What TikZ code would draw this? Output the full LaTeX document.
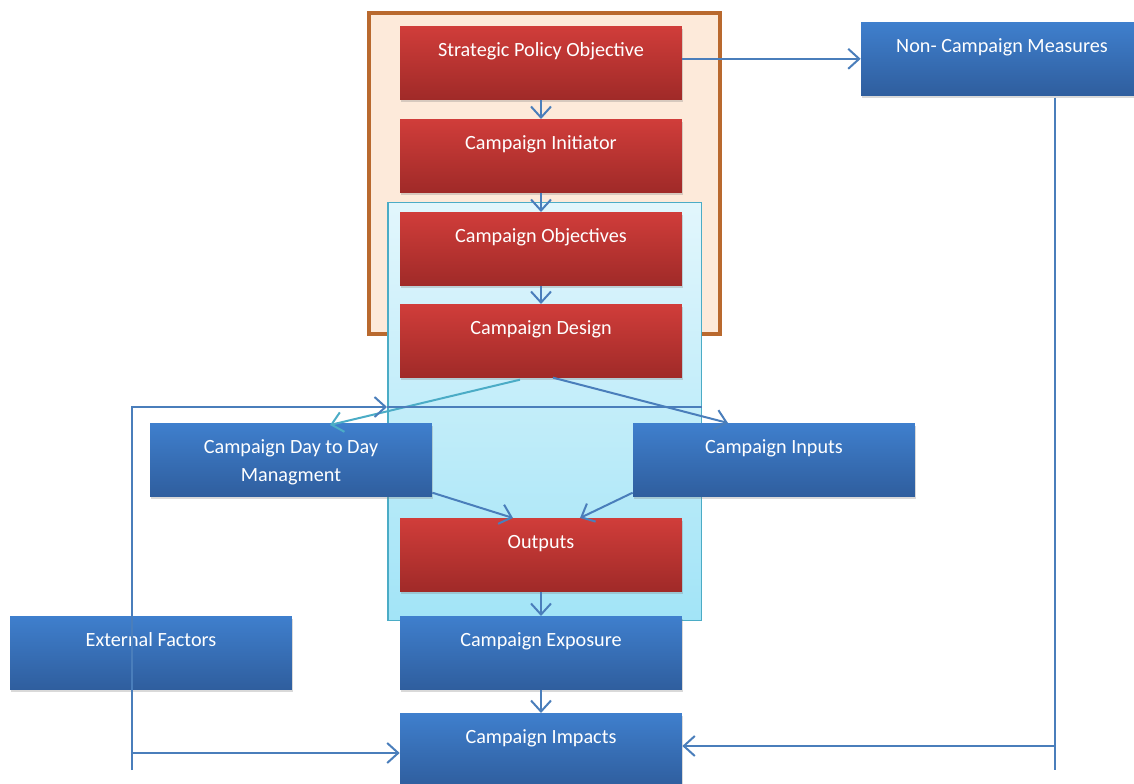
\documentclass[tikz,border=0pt]{standalone}
\usepackage{fontspec}
\setmainfont{Carlito}
\usetikzlibrary{arrows.meta,shadows}
\definecolor{linkblue}{HTML}{4A7EBB}
\definecolor{linkteal}{HTML}{4BACC6}
\definecolor{redtop}{HTML}{D03D3A}
\definecolor{redmid}{HTML}{C53633}
\definecolor{redbot}{HTML}{A02A28}
\definecolor{bluetop}{HTML}{3F7FCD}
\definecolor{bluemid}{HTML}{3A74BD}
\definecolor{bluebot}{HTML}{2F5E9E}
\definecolor{peach}{HTML}{FDEADA}
\definecolor{rust}{HTML}{B9692E}
\definecolor{cyantop}{HTML}{E2F6FC}
\definecolor{cyanbot}{HTML}{A2E4F7}
\tikzset{
  box/.style={inner sep=0pt, minimum width=5.64cm, minimum height=1.46cm,
    text height=0.6cm, text depth=0.86cm, anchor=north, text=white,
    font=\fontsize{11.5}{16}\selectfont, align=center,
    drop shadow={shadow xshift=0.4pt, shadow yshift=-1.4pt, opacity=0.3}},
  redbox/.style={box, top color=redtop, middle color=redmid, bottom color=redbot},
  bluebox/.style={box, top color=bluetop, middle color=bluemid, bottom color=bluebot},
  link/.style={draw=linkblue, line width=0.04cm,
    -{Straight Barb[length=0.22cm,width=0.4cm]}},
}
\begin{document}
\begin{tikzpicture}[x=0.02cm,y=-0.02cm]
  \useasboundingbox (0,0) rectangle (1134,784);
  % frames
  \node[draw=rust, line width=0.08cm, fill=peach, inner sep=0pt,
    minimum width=7.02cm, minimum height=6.42cm, anchor=north west] (policyfr) at (367,11) {};
  \node[draw=linkteal, line width=0.03cm, top color=cyantop, bottom color=cyanbot,
    inner sep=0pt, minimum width=6.28cm, minimum height=8.36cm, anchor=north west] (campfr) at (387,202) {};
  % boxes
  \node[redbox] (spo) at (541,26) {Strategic Policy Objective};
  \node[redbox] (cinit) at (541,119) {Campaign Initiator};
  \node[redbox] (cobj) at (541,212) {Campaign Objectives};
  \node[redbox] (cdes) at (541,304) {Campaign Design};
  \node[bluebox, text height=1.16cm, text depth=0.3cm] (cddm) at (291,423) {Campaign Day to Day\\Managment};
  \node[bluebox] (cinp) at (774,423) {Campaign Inputs};
  \node[redbox] (outp) at (541,518) {Outputs};
  \node[bluebox] (ext) at (151,616) {External Factors};
  \node[bluebox] (cexp) at (541,616) {Campaign Exposure};
  \node[bluebox] (cimp) at (541,713) {Campaign Impacts};
  \node[bluebox] (ncm) at (1002,22) {Non- Campaign Measures};
  % links
  \draw[link] (spo) -- (cinit);
  \draw[link] (cinit) -- (cobj);
  \draw[link] (cobj) -- (cdes);
  \draw[link] (spo.east |- ncm.west) -- (ncm.west);
  \draw[link, draw=linkteal] ([xshift=-0.42cm,yshift=-0.04cm]cdes.south) -- ([xshift=0.78cm,yshift=-0.04cm]cddm.north);
  \draw[link] ([xshift=0.24cm]cdes.south) -- ([xshift=-0.92cm]cinp.north);
  \draw[link] ([yshift=0.08cm]cddm.south east) -- ([xshift=-0.56cm]outp.north);
  \draw[link] ([yshift=0.08cm]cinp.south west) -- ([xshift=0.78cm]outp.north);
  \draw[link] (outp) -- (cexp);
  \draw[link] (cexp) -- (cimp);
  % feedback lines
  \coordinate (fbtop) at (132,407);
  \coordinate (fbbot) at (132,770);
  \coordinate (extin) at (132,753);
  \coordinate (ncmbot) at (1055,770);
  \coordinate (ncmin) at (1055,746);
  \draw[link] (fbbot) -- (fbtop) -- (fbtop -| campfr.west);
  \draw[draw=linkblue, line width=0.03cm] (fbtop -| campfr.west) -- (fbtop -| campfr.east);
  \draw[link] (extin) -- (extin -| cimp.west);
  \draw[draw=linkblue, line width=0.04cm] ([yshift=-0.04cm]ncmbot |- ncm.south) -- (ncmbot);
  \draw[link] (ncmin) -- (ncmin -| cimp.east);
\end{tikzpicture}
\end{document}
